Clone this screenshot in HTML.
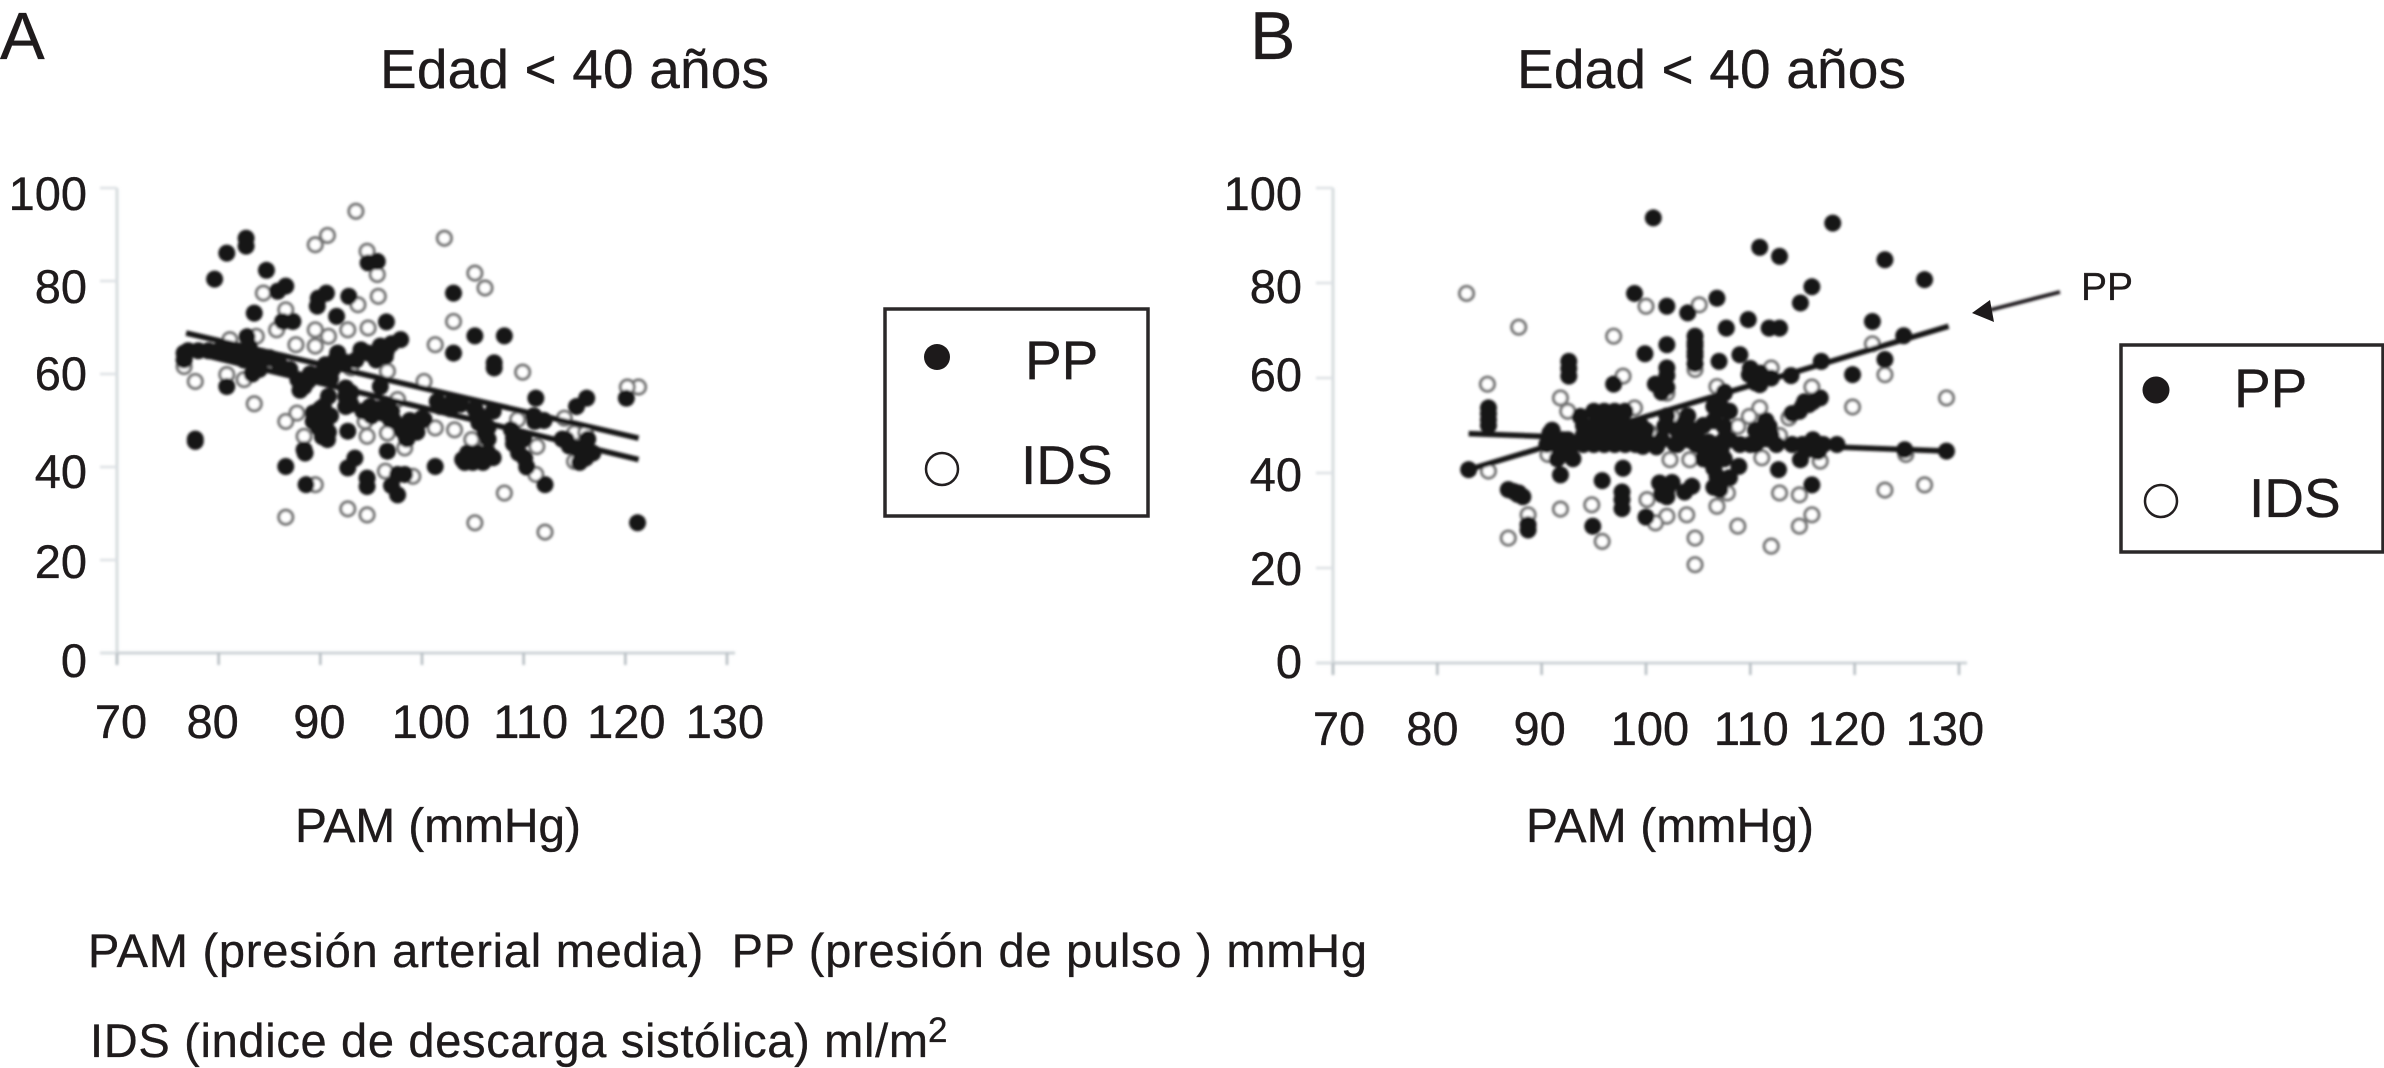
<!DOCTYPE html>
<html lang="es">
<head>
<meta charset="utf-8">
<title>Edad &lt; 40 años</title>
<style>
html,body{margin:0;padding:0;background:#fff;}
body{width:2384px;height:1068px;overflow:hidden;}
svg{display:block;}
text{font-family:"Liberation Sans",sans-serif;fill:#1f1b1c;stroke:#1f1b1c;stroke-width:0.35px;}
</style>
</head>
<body>
<svg id="figure" xmlns="http://www.w3.org/2000/svg" width="2384" height="1068" viewBox="0 0 2384 1068">
  <defs>
    <filter id="soft" filterUnits="userSpaceOnUse" x="0" y="0" width="2384" height="1068">
      <feGaussianBlur stdDeviation="1.2"/>
    </filter>
  </defs>
  <rect x="0" y="0" width="2384" height="1068" fill="#ffffff"/>

  <text x="0" y="59" font-size="67">A</text>
  <text x="1250" y="59" font-size="68">B</text>
  <text x="380" y="88" font-size="55" textLength="389" lengthAdjust="spacing">Edad &lt; 40 años</text>
  <text x="1517" y="88" font-size="55" textLength="389" lengthAdjust="spacing">Edad &lt; 40 años</text>

  <g id="panel-a"></g>
  <g id="panel-b"></g>

  <text x="295" y="842" font-size="48" textLength="286" lengthAdjust="spacing">PAM (mmHg)</text>
  <text x="1526" y="842" font-size="48" textLength="288" lengthAdjust="spacing">PAM (mmHg)</text>

  <g>
    <rect x="885" y="309" width="263" height="207" fill="#fff" stroke="#2b2829" stroke-width="3.5"/>
    <circle cx="937" cy="357" r="13" fill="#1d1a1b"/>
    <text x="1025" y="379" font-size="55">PP</text>
    <circle cx="942" cy="469" r="16" fill="#fff" stroke="#231f20" stroke-width="2.5"/>
    <text x="1021" y="484" font-size="55">IDS</text>
  </g>

  <g>
    <rect x="2121" y="345" width="262" height="207" fill="#fff" stroke="#2b2829" stroke-width="3.5"/>
    <circle cx="2156" cy="390" r="13.5" fill="#1d1a1b"/>
    <text x="2234" y="407" font-size="55">PP</text>
    <circle cx="2161" cy="501" r="16" fill="#fff" stroke="#231f20" stroke-width="2.5"/>
    <text x="2249" y="517" font-size="55">IDS</text>
  </g>

  <g>
    <line x1="2060" y1="292" x2="1990" y2="310" stroke="#231f20" stroke-width="4" filter="url(#soft)"/>
    <polygon points="1972,313 1990,300 1994,322" fill="#1d1a1b"/>
    <text x="2081" y="300" font-size="39">PP</text>
  </g>

  <text x="88" y="967" font-size="47" textLength="1279" lengthAdjust="spacing" xml:space="preserve">PAM (presión arterial media)  PP (presión de pulso ) mmHg</text>
  <text x="90" y="1057" font-size="47" textLength="838" lengthAdjust="spacing">IDS (indice de descarga sistólica) ml/m</text>
  <text x="928" y="1042" font-size="35">2</text>
</svg>

<script>
// Axis labels
const xTicks = [70, 80, 90, 100, 110, 120, 130];
const yTicks = [0, 20, 40, 60, 80, 100];

// Panel A series (PAM mmHg, value)
const aPpX = [77.7,77.7,79.6,80.8,82.7,82.7,84.7,83.5,85.8,86.6,86.3,87.3,82.8,82.8,83.4,76.6,76.6,80.8,87.8,88.4,89.8,90.6,89.7,92.8,91.6,91.7,94,94.7,95.9,96.4,97.9,96.5,94.7,95.6,95.9,92.5,92.5,90.8,90.3,89.3,89.3,90.5,90.7,88.4,92.7,86.6,88.6,92.7,93.4,94.6,94.6,96.6,97.6,98.3,97.6,94.9,96.1,96.9,98.3,99.1,100.2,101.3,103.1,103.1,105.2,108.1,107.1,107.1,101.5,103,105.4,106.2,104,105.2,106.2,109,110.1,111.2,111.1,112.1,114.2,116.1,116.2,115.2,120.1,121.2,
  89.5,90,90.8,91,90.2,89.8,93,93,94.2,95,95.8,96.5,97.2,97,98,98.8,99.5,98.5,100,101.8,102.8,103.8,105.2,106,106.5,105.6,107,106.5,104.5,105.5,106.5,104.2,105,106,107,108.8,109,109.5,110,110.3,111,112,113.8,114.5,115.2,116,116.8,116.3,115.5,91.5,92.5,93.5,95.5,96.5,97,83,83.3,83.8,84,82.5,82,88,88.8,77,78,79,80,81,85,86,87,89,90,91,92.5,88.5,97,95.2,90.5,91.2];
const aPpY = [45.5,46,80.4,86,89.2,87.5,82.3,73.1,77.8,78.9,71.3,71.3,68,65.2,62.4,64.5,63,57.3,58.8,57.3,76.3,77.4,74.6,76.7,72.4,64.5,65.2,64.5,66,63.8,67.4,71.2,83.9,84.2,57.3,55.2,53,55.2,53,51.6,49.8,48.7,45.9,43.7,47.7,40.1,36.2,39.8,41.9,37.6,35.8,43.4,38.4,38.4,34,53,51.6,50.2,47.3,49.1,50.2,40.1,77.4,64.5,68.2,68.2,61.3,62.4,54.1,54.1,51.6,47.3,41.6,41.6,41.6,46.2,41.9,54.8,49.8,36.2,45.9,41.9,54.8,53,54.8,28,
  50,52.5,47.5,51,46.5,48.5,53.5,56,52,51,52.5,53,50,52,48,50,47.5,46,50.5,53,52.5,53.5,52.5,50.5,48.5,49.5,52,46,43,43,43,41,41,41,42,48,45,43,46,40,51,50,46,44.5,44,44,43,46,41,63,62.5,63,63,65,66.5,66,60,63,61,63,64,56.5,58.5,65,65,65,65,65,63.5,62,61,60,60,59,57,43,36,64,62,61];
const aIdsX = [93.5,90.7,89.5,102.2,94.6,95.6,105.2,106.2,95.7,93.7,84.4,86.6,103.1,94.7,92.7,89.5,85.7,90.8,87.6,89.5,83.7,101.3,81.1,109.9,93,96.6,100.2,85.1,76.6,77.7,80.8,82.5,83.5,87.7,86.6,121.3,120.2,97.6,94.4,94.6,88.4,96.6,101.3,103.2,104.9,106.3,111.3,114,115,116.1,115,109.4,98.3,111.2,108.1,96.4,99.1,89.5,86.6,92.7,94.6,105.2,112.1];
const aIdsY = [95,89.8,87.8,89.2,86.4,81.4,81.7,78.5,76.7,74.9,77.4,73.8,71.3,69.9,69.5,69.5,69.5,68.1,66.3,66,68.1,66.3,67.4,60.4,61.3,60.6,58.4,63.1,61.6,58.4,59.9,58.8,53.6,51.6,49.8,57.2,57.2,54.5,49.8,46.6,46.6,47.3,48.4,48,45.9,44.4,44.4,50.5,47.3,47.3,41.2,50.2,44.1,38.4,34.4,39.1,38,36.2,29.2,31,29.7,28,26];
const aTrendX = [76.8, 121.3];
const aTrendPpY = [65, 41.6];
const aTrendIdsY = [68.8, 46.2];

// Panel B series (PAM mmHg, value)
const bPpX = [100.7,117.9,110.9,112.8,122.9,126.7,115.9,114.8,98.9,102,104,106.8,107.7,109.8,111.8,112.8,121.7,102,99.9,104.7,104.7,104.7,107,109,92.6,92.6,102,96.9,100.9,109.9,110.9,113.9,116.8,124.7,122.9,119.8,107.5,107.5,107.5,116.7,115.6,114.7,84.9,84.9,83,90.8,91.6,92.4,93.7,95.8,97.8,95.8,97.8,99.7,101.8,103.7,103.2,105.6,105.9,106.8,107.1,108.9,91.8,95.8,97.8,97.7,87.3,87.8,88.7,94.9,100,101.3,102,104.4,111.8,110.9,112.7,114.8,115.9,116.8,118.3,124.8,128.8,94.8,96.8,98.8,100.8,102.8,104.8,106.8,
  94,95,96,97,98,94,95,96,97,98,99,94,95,96,97,98,99,95,96,97,98,96.5,99.5,100,100,101.5,102,102,103,103,104,104,104.5,105,101,106,105.5,106.5,106.5,106.5,106.5,107,106.5,107.5,107.5,107,108,108,108,105.5,92,91,90.5,92.5,93,93,91.5,110.5,110.5,111.5,112,112.5,109,110,114,115,116,117,115.5,116.5,110,110.5,111,112,116,115,114,115.2,92.6,84.9,84.9,104.7,104.7,104.7,102,102,101.5,86.8,87.7,88.2,88.7,97.7,97.7,102,101.5,102.5,103.7,107.5,107.2];
const bPpY = [93.7,92.6,87.5,85.6,84.9,80.7,79.2,75.8,77.8,75.1,73.7,76.8,70.5,72.3,70.5,70.5,71.9,67,65.1,68.8,66.7,64.6,63.5,64.9,63.5,60.4,62.1,58.7,58.7,60.7,58.6,60.5,63.5,68.9,63.9,60.7,56.8,53.3,49.8,55.8,54.4,53,53.7,51.2,40.7,48.4,45.6,44.6,51.9,52.6,52.6,48.4,47.7,45.6,49.8,50.5,47,46.3,42.8,39.3,36.5,41.4,39.6,38.4,41,34.4,36.1,35.8,29.1,28.8,30.7,37.9,36.5,37.2,49.8,47.7,40.7,42.8,37.5,46,46,44.9,44.6,47.5,46.5,46.5,46,46,46,46,
  50,50,50,50,50,48,48,48,48,48,48,46,46,46,46,46,46,53,53,53,53,51.5,50,47,49,47,52,50,46,49,47,52,49,47,45.5,46.5,50,54,51,44,41,38,37,43,57,55,53,47,39,43,47,49,46,47,46,43,43,49,46,51,48,46,46,46,46,46,47,46,45,44.5,62,59,61,60,55,54,52.5,55,62,52.5,50,67.5,65.5,63,60.5,58,57,36.5,35.5,35,28,32.5,36,35,35.5,38,36,47,45];
const bIdsX = [82.8,87.8,84.8,96.9,100,105.1,97.8,104.7,112,121.7,122.9,115.9,128.8,119.8,91.8,92.5,102,106.8,110.9,109.9,108.8,113.7,112.8,100.4,102.5,98.9,102.3,104.2,116.7,111.1,84.9,124.9,90.6,122.9,126.7,112.8,114.7,107.8,106.8,100.1,91.8,94.8,88.7,102,103.9,100.9,108.8,115.9,114.7,86.8,95.8,104.7,112,104.7];
const bIdsY = [77.8,70.7,58.7,68.8,75.1,75.4,60.4,61.8,62.1,67.2,60.7,58.1,55.8,53.9,55.8,53,56.8,58.2,53.7,51.9,49.8,51.6,47.9,48.4,51.9,53.7,42.8,42.8,42.5,43.2,40.4,43.9,43.9,36.4,37.5,35.8,35.4,35.8,33,34.4,32.4,33.3,31.2,30.9,31.2,29.5,28.8,31.2,28.8,26.3,25.6,26.3,24.6,20.7];
const bTrendX = [83, 129];
const bTrendPpY = [40.7, 70.9];
const bTrendIdsY = [48.3, 44.6];

const NS = 'http://www.w3.org/2000/svg';

function make(parent, tag, attrs) {
  const el = document.createElementNS(NS, tag);
  for (const k in attrs) el.setAttribute(k, attrs[k]);
  parent.appendChild(el);
  return el;
}

function linear(d0, d1, r0, r1) {
  return function (v) { return r0 + (v - d0) * (r1 - r0) / (d1 - d0); };
}

function drawPanel(root, prefix, cfg, ppX, ppY, idsX, idsY, trendX, trendPpY, trendIdsY) {
  const sx = linear(70, 130, cfg.left, cfg.right);
  const sy = linear(0, 100, cfg.bottom, cfg.top);

  const axes = make(root, 'g', { filter: 'url(#soft)' });
  
  

  const yLine = make(axes, 'line', { x1: sx(70), x2: sx(70), y1: sy(100), y2: sy(0) + 12, stroke: '#d6dbde', 'stroke-width': 3 });
  
  

  const xLine = make(axes, 'line', { x1: sx(70) - 17, x2: sx(130) + 8, y1: sy(0), y2: sy(0), stroke: '#cdd3d7', 'stroke-width': 3 });
  
  

  yTicks.forEach(function (t, i) {
    const tick = make(axes, 'line', { x1: sx(70) - 17, x2: sx(70), y1: sy(t), y2: sy(t), stroke: '#dde1e4', 'stroke-width': 2.5 });
    
    
    const label = make(root, 'text', { x: cfg.yLabelRight, y: sy(t) + cfg.yNudge[i], 'font-size': 47, 'text-anchor': 'end' });
    
    
    label.textContent = t;
  });

  xTicks.forEach(function (t, i) {
    const tick = make(axes, 'line', { x1: sx(t), x2: sx(t), y1: sy(0), y2: sy(0) + 12, stroke: '#b4bbc0', 'stroke-width': 2.5 });
    
    
    const label = make(root, 'text', { x: sx(t) + cfg.xNudge[i], y: cfg.xLabelBase, 'font-size': 47, 'text-anchor': 'middle' });
    
    
    label.textContent = t;
  });

  const marks = make(root, 'g', { filter: 'url(#soft)' });
  
  

  idsX.forEach(function (x, i) {
    const c = make(marks, 'circle', { cx: sx(x), cy: sy(idsY[i]), r: 7, fill: '#fff', stroke: '#757575', 'stroke-width': 3.2 });
    
    
  });

  const trendPp = make(marks, 'line', { x1: sx(trendX[0]), y1: sy(trendPpY[0]), x2: sx(trendX[1]), y2: sy(trendPpY[1]), stroke: '#141213', 'stroke-width': 5.5 });
  
  

  const trendIds = make(marks, 'line', { x1: sx(trendX[0]), y1: sy(trendIdsY[0]), x2: sx(trendX[1]), y2: sy(trendIdsY[1]), stroke: '#141213', 'stroke-width': 5.5 });
  
  

  ppX.forEach(function (x, i) {
    const c = make(marks, 'circle', { cx: sx(x), cy: sy(ppY[i]), r: 8.5, fill: '#141213' });
    
    
  });
}

drawPanel(document.getElementById('panel-a'), 'panel-a',
  { left: 117, right: 727, bottom: 653, top: 188, yLabelRight: 87, xLabelBase: 738,
    yNudge: [24, 18, 21, 16, 22, 22], xNudge: [4, -6, -1, 9, 7, 1, -2] },
  aPpX, aPpY, aIdsX, aIdsY, aTrendX, aTrendPpY, aTrendIdsY);

drawPanel(document.getElementById('panel-b'), 'panel-b',
  { left: 1333, right: 1959, bottom: 663, top: 188, yLabelRight: 1302, xLabelBase: 745,
    yNudge: [15, 17, 18, 13, 20, 22], xNudge: [6, -5, -2, 4, 1, -8, -14] },
  bPpX, bPpY, bIdsX, bIdsY, bTrendX, bTrendPpY, bTrendIdsY);
</script>
</body>
</html>
